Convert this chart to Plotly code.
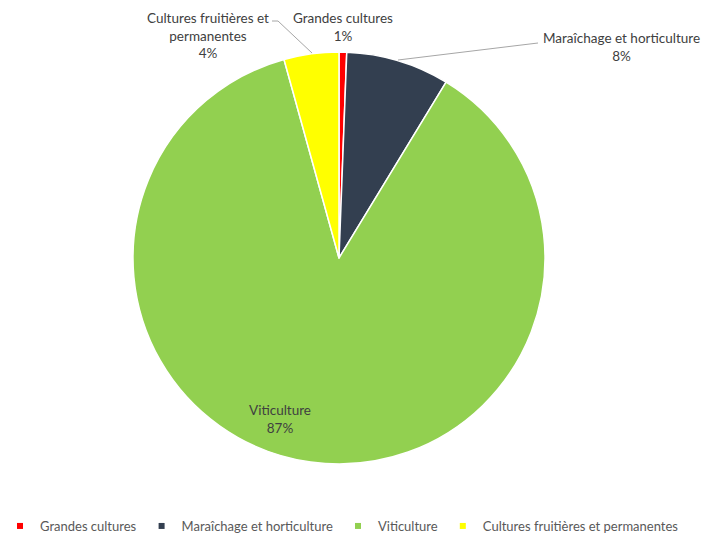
import plotly.graph_objects as go

categories = ["Grandes cultures", "Maraîchage et horticulture", "Viticulture", "Cultures fruitières et permanentes"]
values = [0.6, 8.1, 87.0, 4.3]
colors = ["#FF0000", "#333F50", "#92D050", "#FFFF00"]
label_texts = ["Grandes cultures", "Maraîchage et horticulture", "Viticulture", "Cultures fruitières et<br>permanentes"]

W, H = 703, 535
def px(x): return x / W
def py(y): return 1 - y / H

total = sum(values)
pcts = [f"{round(v / total * 100):.0f}%" for v in values]

fig = go.Figure()
fig.add_trace(go.Pie(
    labels=categories, values=values, sort=False, direction="clockwise", rotation=0,
    marker=dict(colors=colors, line=dict(color="white", width=1.5)),
    textinfo="none", showlegend=False,
    domain=dict(x=[px(133), px(545)], y=[py(464), py(52)]),
))
for name, c in zip(categories, colors):
    fig.add_trace(go.Scatter(x=[None], y=[None], mode="markers", name=name,
                             marker=dict(symbol="square", size=6, color=c)))

font = dict(family="Lato, Carlito, sans-serif", size=13.5, color="#404040")
label_pos = [(343, 27), (621, 47), (280, 419), (208, 35)]
anns = []
for t, p, (x, y) in zip(label_texts, pcts, label_pos):
    anns.append(dict(x=px(x), y=py(y), xref="paper", yref="paper", text=f"{t}<br>{p}",
                     showarrow=False, align="center", font=font, xanchor="center", yanchor="middle"))

line = dict(color="#A6A6A6", width=1)
shapes = [
    dict(type="line", xref="paper", yref="paper", x0=px(398), y0=py(60), x1=px(538), y1=py(43), line=line),
    dict(type="line", xref="paper", yref="paper", x0=px(272), y0=py(21), x1=px(278), y1=py(21), line=line),
    dict(type="line", xref="paper", yref="paper", x0=px(278), y0=py(21), x1=px(312), y1=py(53), line=line),
]

fig.update_layout(
    width=W, height=H, margin=dict(l=0, r=0, t=0, b=0, autoexpand=False),
    paper_bgcolor="white", plot_bgcolor="white",
    xaxis=dict(visible=False), yaxis=dict(visible=False),
    annotations=anns, shapes=shapes,
    legend=dict(orientation="h", x=0, xanchor="left",
                y=py(526), yanchor="middle",
                font=dict(family="Lato, Carlito, sans-serif", size=13, color="#595959"),
                itemwidth=30, tracegroupgap=0, bgcolor="rgba(0,0,0,0)"),
)
fig.write_html("out.html", config={"displayModeBar": False},
               post_script="document.body.style.margin='0';")
